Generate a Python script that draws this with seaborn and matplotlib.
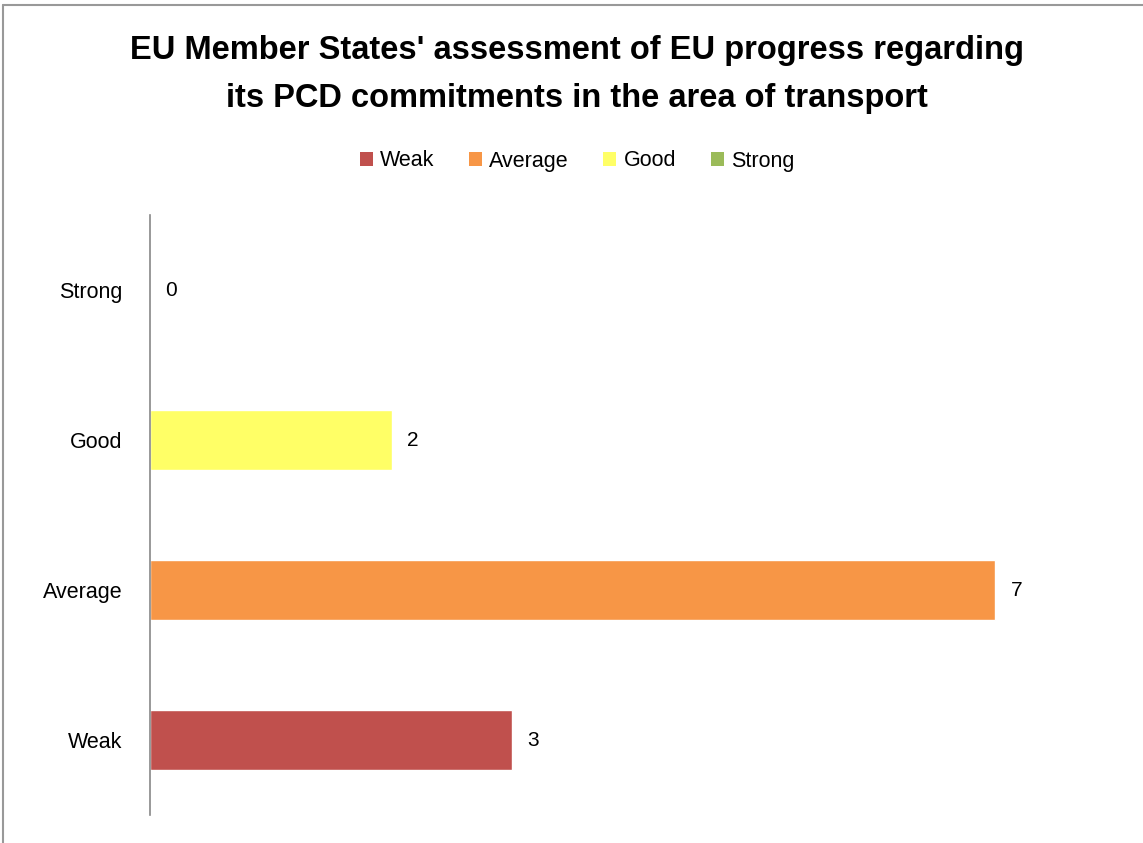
import matplotlib
matplotlib.use("Agg")
import matplotlib.pyplot as plt
import seaborn as sns
import pandas as pd
from matplotlib.patches import Patch
from matplotlib.lines import Line2D

categories = ["Weak", "Average", "Good", "Strong"]
values = [3, 7, 2, 0]
colors = ["#C0504D", "#F79646", "#FFFF66", "#9BBB59"]
title = "EU Member States' assessment of EU progress regarding\nits PCD commitments in the area of transport"

sns.set_theme(style="white")
plt.rcParams["font.family"] = ["Liberation Sans", "DejaVu Sans"]
plt.rcParams["text.color"] = "black"

df = pd.DataFrame({"category": categories, "value": values})
palette = dict(zip(categories, colors))

fig = plt.figure(figsize=(11.43, 8.43), dpi=100)
ax = fig.add_axes([150 / 1143, 1 - 815 / 843, (1116 - 150) / 1143, 600 / 843])

sns.barplot(data=df, x="value", y="category", hue="category", order=categories[::-1],
            hue_order=categories, palette=palette, orient="h", width=0.4,
            dodge=False, legend=False, ax=ax, saturation=1)

for c in ax.containers:
    ax.bar_label(c, fmt="%d", padding=11, fontsize=15, color="black")

ax.set_xlim(0, 8)
ax.set_ylim(3.5, -0.5)
ax.set_xlabel("")
ax.set_ylabel("")
ax.set_xticks([])
ax.tick_params(axis="y", length=0, labelsize=15.5, pad=20, labelcolor="black")
for s in ["top", "right", "bottom"]:
    ax.spines[s].set_visible(False)
ax.spines["left"].set_color("#888888")
ax.spines["left"].set_linewidth(1.2)

fig.suptitle(title, x=0.505, y=1 - 35 / 843, fontsize=23.5, fontweight="bold",
             linespacing=1.7, color="black")

handles = [Patch(facecolor=c, edgecolor="none") for c in colors]
fig.legend(handles, categories, loc="center", bbox_to_anchor=(0.505, 1 - 161 / 843), ncol=4,
           frameon=False, fontsize=15.5, handlelength=0.6, handleheight=0.6,
           handletextpad=0.35, columnspacing=1.6, labelcolor="black")

fig.add_artist(Line2D([3 / 1143, 1], [1 - 5 / 843, 1 - 5 / 843], color="#999999", lw=1.5,
                      transform=fig.transFigure))
fig.add_artist(Line2D([3 / 1143, 3 / 1143], [0, 1 - 5 / 843], color="#999999", lw=1.5,
                      transform=fig.transFigure))

fig.savefig("out.png", dpi=100, facecolor="white")
